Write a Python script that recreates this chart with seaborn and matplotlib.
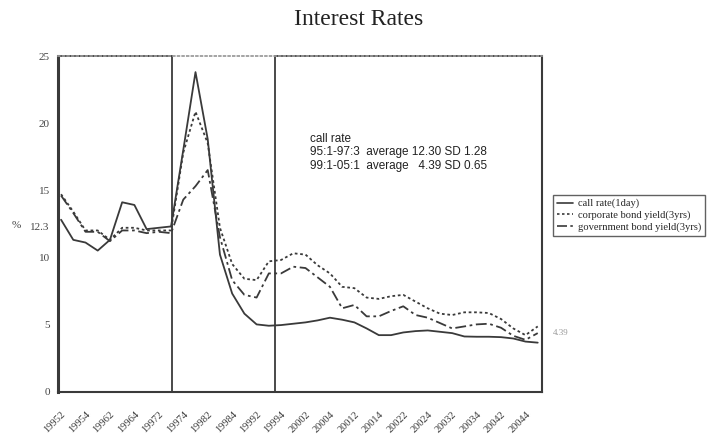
import numpy as np
import pandas as pd
import matplotlib
matplotlib.use('Agg')
import matplotlib.pyplot as plt
from matplotlib.patches import Rectangle
import seaborn as sns

# quarterly data, 1995:2 - 2005:1
quarter = np.arange(40)
tick_labels = ['19952', '19954', '19962', '19964', '19972', '19974', '19982', '19984',
               '19992', '19994', '20002', '20004', '20012', '20014', '20022', '20024',
               '20032', '20034', '20042', '20044']

call_rate = [12.8, 11.3, 11.1, 10.5, 11.3, 14.1, 13.9, 12.1, 12.2, 12.3,
             18.0, 23.8, 18.8, 10.2, 7.3, 5.8, 5.0, 4.9, 4.95, 5.05,
             5.15, 5.3, 5.5, 5.35, 5.15, 4.7, 4.2, 4.2, 4.4, 4.5,
             4.55, 4.45, 4.35, 4.1, 4.08, 4.08, 4.05, 3.95, 3.72, 3.64]
corp_bond = [14.7, 13.4, 12.0, 12.0, 11.3, 12.2, 12.2, 12.0, 12.0, 12.0,
             17.8, 20.85, 18.5, 12.2, 9.5, 8.4, 8.3, 9.7, 9.8, 10.3,
             10.2, 9.4, 8.8, 7.8, 7.7, 7.0, 6.9, 7.1, 7.2, 6.7,
             6.2, 5.8, 5.7, 5.9, 5.9, 5.85, 5.4, 4.7, 4.2, 4.85]
gov_bond = [14.6, 13.3, 11.9, 11.9, 11.2, 12.0, 12.0, 11.8, 11.9, 11.8,
            14.3, 15.3, 16.5, 11.5, 8.3, 7.2, 7.0, 8.8, 8.8, 9.3,
            9.2, 8.5, 7.8, 6.2, 6.45, 5.6, 5.6, 6.0, 6.35, 5.7,
            5.5, 5.1, 4.7, 4.85, 5.0, 5.05, 4.75, 4.15, 3.85, 4.35]

series_names = ['call rate(1day)', 'corporate bond yield(3yrs)', 'government bond yield(3yrs)']

df = pd.DataFrame({
    'q': np.tile(quarter, 3),
    'rate': call_rate + corp_bond + gov_bond,
    'series': np.repeat(series_names, 40),
})

sns.set_theme(style='white')
plt.rcParams['font.family'] = ['Liberation Serif', 'DejaVu Serif']

fig = plt.figure(figsize=(7.13, 4.34), dpi=100)
ax = fig.add_axes([58 / 713, 1 - 391.5 / 434, 484 / 713, 335.5 / 434])

ink = '#3a3a3a'
dash_map = {series_names[0]: '', series_names[1]: (1.5, 1.5), series_names[2]: (6, 2, 1.5, 2)}
sns.lineplot(data=df, x='q', y='rate', style='series', style_order=series_names,
             dashes=dash_map, color=ink, linewidth=1.3, ax=ax, legend=False)

xmin, xmax = -0.25, 39.35
ax.set_xlim(xmin, xmax)
ax.set_ylim(0, 25)

# boxes for the two periods
ax.add_patch(Rectangle((xmin, 0), 9.1 - xmin, 25, fill=False, edgecolor=ink, lw=1.3, clip_on=False))
ax.add_patch(Rectangle((17.5, 0), xmax - 17.5, 25, fill=False, edgecolor=ink, lw=1.3, clip_on=False))

for s in ['left', 'bottom', 'right']:
    ax.spines[s].set_color(ink)
    ax.spines[s].set_linewidth(1.5)
ax.spines['left'].set_linewidth(2.2)
ax.spines['top'].set_color('#999999')
ax.spines['top'].set_linestyle(':')

ax.set_xticks(quarter)
ax.set_xticklabels([tick_labels[i // 2] if i % 2 == 0 else '' for i in quarter],
                   rotation=45, ha='right', rotation_mode='anchor', fontsize=7.5, color='#555555')
ax.set_yticks([0, 5, 10, 12.3, 15, 20, 25])
ax.set_yticklabels(['0', '5', '10', '12.3', '15', '20', '25'], fontsize=8, color='#444444')
ax.get_yticklabels()[3].set_color('#aaaaaa')
ax.tick_params(direction='in', length=3, width=0.8, colors=ink, pad=6)
ax.tick_params(axis='x', pad=13)
ax.tick_params(axis='y', labelcolor='#444444')
ax.set_xlabel('')
ax.set_ylabel('')

# right side average label
ax.text(xmax + 0.9, 4.39, '4.39', fontsize=6.5, color='#999999', va='center', ha='left')

# annotation
ann = ['call rate',
       '95:1-97:3  average 12.30 SD 1.28',
       '99:1-05:1  average   4.39 SD 0.65']
for k, line in enumerate(ann):
    fig.text(310 / 713, 1 - (139 + 13.5 * k) / 434, line, fontsize=8.5, family='Liberation Sans',
             color='#222222', va='center', ha='left')

fig.text(16 / 713, 1 - 225 / 434, '%', fontsize=8, color='#444444', ha='center', va='center')

fig.suptitle('Interest Rates', x=0.503, y=0.955, fontsize=17, color='#222222', va='center')

handles = [plt.Line2D([], [], color=ink, lw=1.2, linestyle='-')]
for d in [(1.5, 1.5), (6, 2, 1.5, 2)]:
    handles.append(plt.Line2D([], [], color=ink, lw=1.2, dashes=d))
leg = fig.legend(handles, series_names, loc='upper left', bbox_to_anchor=(551 / 713, 1 - 193 / 434),
                 fontsize=7.6, frameon=True, fancybox=False, edgecolor=ink, handlelength=1.5,
                 labelspacing=0.2, borderpad=0.35, handletextpad=0.5, borderaxespad=0.2)
leg.get_frame().set_linewidth(1.0)

fig.savefig('out.png', dpi=100)
